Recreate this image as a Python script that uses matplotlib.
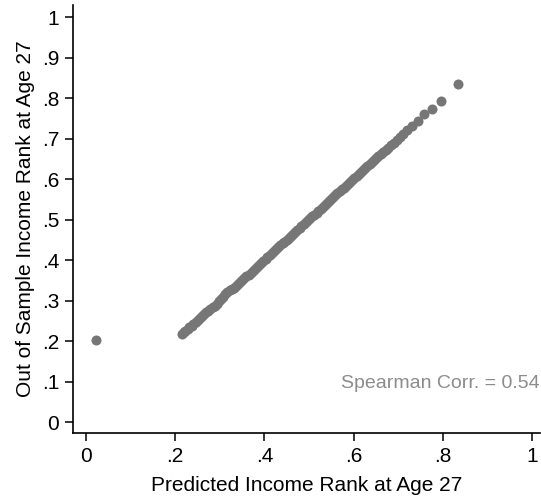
import matplotlib.pyplot as plt

plt.rcParams["font.family"] = ["Liberation Sans", "DejaVu Sans"]

# predicted rank vs out-of-sample rank
pred_rank = [
    0.022, 0.215, 0.219, 0.223, 0.228, 0.232, 0.237, 0.241, 0.246, 0.251,
    0.255, 0.260, 0.265, 0.270, 0.274, 0.279, 0.284, 0.289, 0.293, 0.298,
    0.303, 0.308, 0.312, 0.317, 0.322, 0.327, 0.331, 0.336, 0.341, 0.346,
    0.350, 0.355, 0.360, 0.365, 0.369, 0.374, 0.379, 0.384, 0.388, 0.393,
    0.398, 0.403, 0.407, 0.412, 0.417, 0.422, 0.426, 0.431, 0.436, 0.441,
    0.445, 0.450, 0.455, 0.460, 0.464, 0.469, 0.474, 0.479, 0.483, 0.488,
    0.493, 0.498, 0.502, 0.507, 0.512, 0.517, 0.521, 0.526, 0.531, 0.536,
    0.540, 0.545, 0.550, 0.555, 0.559, 0.564, 0.569, 0.574, 0.578, 0.583,
    0.588, 0.593, 0.597, 0.602, 0.607, 0.612, 0.616, 0.621, 0.626, 0.631,
    0.636, 0.641, 0.646, 0.651, 0.656, 0.661, 0.667, 0.672, 0.678, 0.684,
    0.690, 0.697, 0.704, 0.712, 0.721, 0.731, 0.745, 0.758, 0.776, 0.796,
    0.834,
]
oos_rank = [
    0.202, 0.218, 0.222, 0.226, 0.230, 0.234, 0.238, 0.242, 0.246, 0.251,
    0.256, 0.261, 0.266, 0.271, 0.275, 0.279, 0.283, 0.287, 0.292, 0.298,
    0.304, 0.310, 0.316, 0.321, 0.325, 0.329, 0.332, 0.336, 0.340, 0.345,
    0.350, 0.355, 0.360, 0.364, 0.368, 0.373, 0.378, 0.383, 0.388, 0.393,
    0.398, 0.403, 0.407, 0.412, 0.417, 0.422, 0.427, 0.432, 0.437, 0.441,
    0.445, 0.450, 0.455, 0.460, 0.464, 0.469, 0.474, 0.479, 0.484, 0.489,
    0.494, 0.499, 0.503, 0.508, 0.512, 0.517, 0.522, 0.527, 0.532, 0.537,
    0.541, 0.546, 0.551, 0.556, 0.560, 0.565, 0.570, 0.575, 0.579, 0.584,
    0.589, 0.594, 0.598, 0.603, 0.608, 0.612, 0.617, 0.622, 0.627, 0.632,
    0.637, 0.642, 0.647, 0.651, 0.656, 0.661, 0.667, 0.672, 0.678, 0.684,
    0.690, 0.697, 0.704, 0.712, 0.721, 0.731, 0.743, 0.760, 0.773, 0.793,
    0.835,
]

ticks = [0, 0.2, 0.4, 0.6, 0.8, 1]
tick_labels = ["0", ".2", ".4", ".6", ".8", "1"]
yticks = [0, 0.1, 0.2, 0.3, 0.4, 0.5, 0.6, 0.7, 0.8, 0.9, 1]
ytick_labels = ["0", ".1", ".2", ".3", ".4", ".5", ".6", ".7", ".8", ".9", "1"]

fig = plt.figure(figsize=(5.41, 4.98), dpi=100)
ax = fig.add_axes([0.135, 0.1305, 0.863, 0.8595])

ax.scatter(pred_rank, oos_rank, s=52, color="#767676", linewidths=0, zorder=3)

ax.text(1.0, 0.096, "Spearman Corr. = 0.54", color="#8c8c8c",
        fontsize=14, ha="right", va="center", transform=ax.get_yaxis_transform())

ax.set_xlim(-0.029, 1.018)
ax.set_ylim(-0.027, 1.03)
ax.set_xticks(ticks)
ax.set_xticklabels(tick_labels)
ax.set_yticks(yticks)
ax.set_yticklabels(ytick_labels)

for side in ["top", "right"]:
    ax.spines[side].set_visible(False)
for side in ["left", "bottom"]:
    ax.spines[side].set_linewidth(1.2)

ax.tick_params(direction="out", length=6, width=1.1, labelsize=15, pad=4)
ax.set_xlabel("Predicted Income Rank at Age 27", fontsize=15, labelpad=7)
ax.set_ylabel("Out of Sample Income Rank at Age 27", fontsize=15, labelpad=5)

plt.savefig("out.png", dpi=100, facecolor="white")
